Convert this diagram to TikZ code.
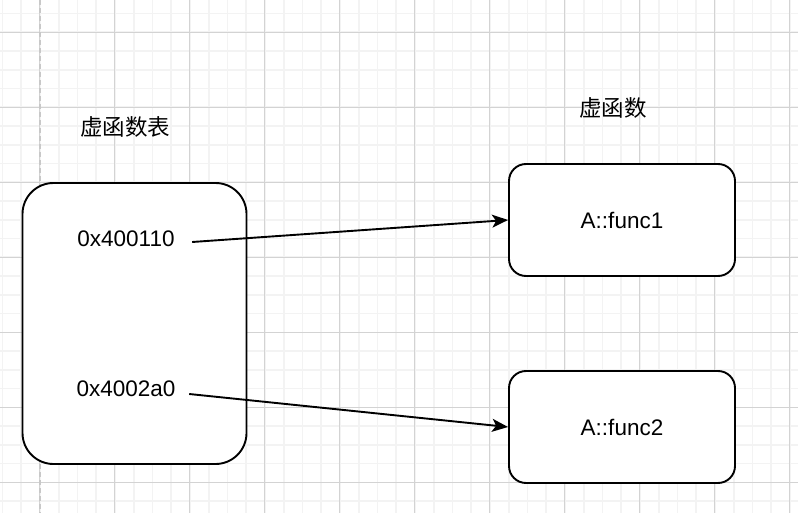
\documentclass[tikz,border=0pt]{standalone}
\usepackage{fontspec}
\setmainfont{Liberation Sans}
\newfontfamily\cjk{Noto Sans CJK SC}
\usetikzlibrary{arrows.meta, positioning}
\definecolor{gridmin}{HTML}{F3F3F3}
\definecolor{gridmaj}{HTML}{D3D3D3}
\definecolor{guide}{HTML}{C8C8C8}
\definecolor{ink}{HTML}{000000}

\begin{document}
\begin{tikzpicture}[
  x=1pt, y=-1pt,
  >={Stealth[length=16pt, width=13pt, inset=4pt]},
  lbl/.style={font=\fontsize{22.5}{27}\selectfont, text=ink, inner sep=0pt},
  rbox/.style={draw=ink, line width=1.9pt, fill=white},
]
\useasboundingbox (0,0) rectangle (798,513);

% Background grid
\fill[white] (0,0) rectangle (798,513);
\foreach \x in {2.5,21.25,...,800} {
  \draw[gridmin, line width=1.6pt] (\x,0) -- (\x,513);
}
\foreach \y in {13.55,32.3,...,515} {
  \draw[gridmin, line width=1.6pt] (0,\y) -- (798,\y);
}
\foreach \x in {39.5,114.5,...,800} {
  \draw[gridmaj, line width=1pt] (\x,0) -- (\x,513);
}
\foreach \y in {32.3,107.3,...,515} {
  \draw[gridmaj, line width=1pt] (0,\y) -- (798,\y);
}

% Page guide
\draw[guide, line width=2pt, dash pattern=on 5pt off 3pt] (40,0) -- (40,513);

% =============================================
% Virtual table
% =============================================
\node[lbl] (vtbltitle) at (125,127) {\cjk 虚函数表};

\node[rbox, rounded corners=31pt, minimum width=224pt, minimum height=281pt]
  (vtbl) at (134.5,323.5) {};

\node[lbl, minimum width=132pt] (addr1) at (126,239) {0x400110};
\node[lbl, minimum width=126pt] (addr2) at (126,389) {0x4002a0};

% =============================================
% Virtual functions
% =============================================
\node[lbl] (functitle) at (613,108) {\cjk 虚函数};

\node[rbox, rounded corners=17pt, minimum width=226pt, minimum height=112pt,
      font=\fontsize{22.5}{27}\selectfont] (func1) at (622,220) {A::func1};
\node[rbox, rounded corners=17pt, minimum width=226pt, minimum height=112pt,
      font=\fontsize{22.5}{27}\selectfont] (func2) at (622,427) {A::func2};

% Arrows
\draw[->, line width=1.9pt, ink] ([yshift=-3pt]addr1.east) -- (func1.west);
\draw[->, line width=1.9pt, ink] ([yshift=-5pt]addr2.east) -- (func2.west);

\end{tikzpicture}
\end{document}
